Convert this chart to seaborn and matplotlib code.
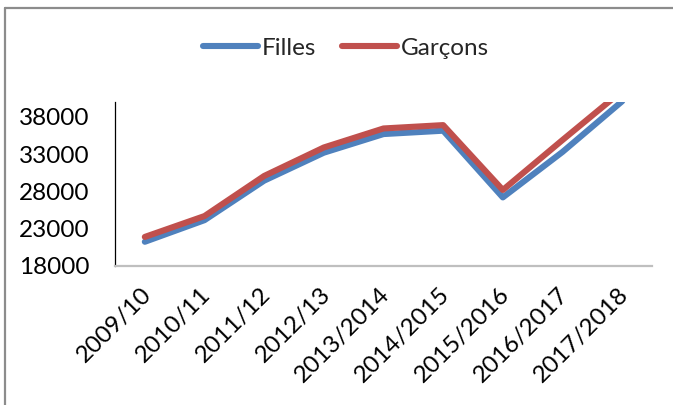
import matplotlib
matplotlib.use("Agg")
import matplotlib.pyplot as plt
from matplotlib.lines import Line2D
import matplotlib.transforms as mtransforms
import seaborn as sns
import pandas as pd

years = ["2009/10", "2010/11", "2011/12", "2012/13", "2013/2014",
         "2014/2015", "2015/2016", "2016/2017", "2017/2018"]
filles = [21250, 24150, 29450, 33200, 35700, 36150, 27200, 33300, 40100]
garcons = [21900, 24700, 30080, 33900, 36450, 36900, 28200, 34900, 41500]
series_names = ["Filles", "Garçons"]
yticks = [18000, 23000, 28000, 33000, 38000]

df = pd.DataFrame({
    "annee": years * 2,
    "valeur": filles + garcons,
    "sexe": [series_names[0]] * len(years) + [series_names[1]] * len(years),
})

sns.set_theme(style="white")
plt.rcParams["font.family"] = ["Lato", "DejaVu Sans"]
FS = 17.5

fig = plt.figure(figsize=(6.73, 4.05), dpi=100)
ax = fig.add_axes([115 / 673, 1 - 266 / 405, (652 - 115) / 673, (266 - 102) / 405])

sns.lineplot(data=df, x="annee", y="valeur", hue="sexe", sort=False,
             palette={"Filles": "#4F81BD", "Garçons": "#C0504D"},
             linewidth=4.4, ax=ax, legend=False)
for ln in ax.lines:
    ln.set_solid_capstyle("round")
    ln.set_solid_joinstyle("round")

ax.set_xlim(-0.5, len(years) - 0.5)
ax.set_ylim(18000, 40000)
ax.set_yticks(yticks)
ax.set_yticklabels([str(v) for v in yticks], fontsize=FS, color="black")
ax.set_xticks(range(len(years)))
ax.set_xticklabels(years, fontsize=FS, color="black", rotation=45,
                   ha="right", va="center", rotation_mode="anchor")
ax.tick_params(axis="x", length=0, pad=18)
ax.tick_params(axis="y", length=0, pad=18.5)
shift = mtransforms.ScaledTranslation(3 / 100, 0, fig.dpi_scale_trans)
for lbl in ax.get_xticklabels():
    lbl.set_transform(lbl.get_transform() + shift)
ax.set_xlabel("")
ax.set_ylabel("")
for s in ["top", "right"]:
    ax.spines[s].set_visible(False)
ax.spines["left"].set_color("#000000")
ax.spines["left"].set_linewidth(0.9)
ax.spines["bottom"].set_color("#BFBFBF")
ax.spines["bottom"].set_linewidth(1.6)

handles = [Line2D([0], [0], color="#4F81BD", lw=4.4, solid_capstyle="round"),
           Line2D([0], [0], color="#C0504D", lw=4.4, solid_capstyle="round")]
fig.legend(handles, series_names, loc="center", bbox_to_anchor=(346 / 673, 1 - 48 / 405),
           ncol=2, frameon=False, fontsize=FS, handlelength=2.26,
           handletextpad=0.16, columnspacing=1.03, borderaxespad=0, borderpad=0)

# figure frame (top and left edges visible)
fig.add_artist(Line2D([5 / 673, 5 / 673], [0, 1 - 8 / 405], transform=fig.transFigure,
                      color="#8C8C8C", lw=1.6))
fig.add_artist(Line2D([5 / 673, 1], [1 - 8 / 405, 1 - 8 / 405], transform=fig.transFigure,
                      color="#8C8C8C", lw=1.6))

fig.savefig("out.png", dpi=100, facecolor="white")
